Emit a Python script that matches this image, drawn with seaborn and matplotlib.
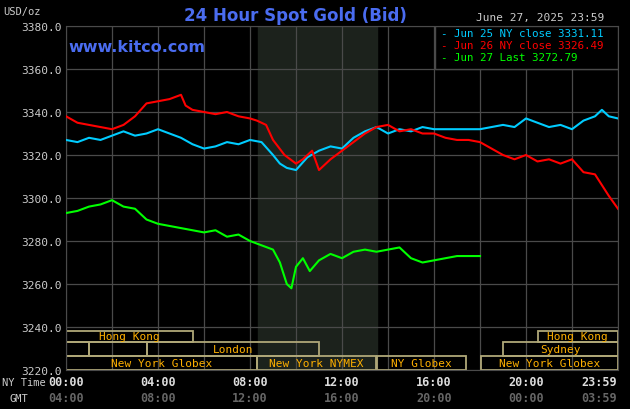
import numpy as np
import pandas as pd
import matplotlib.pyplot as plt
import seaborn as sns
from matplotlib.patches import Rectangle

# hours since 00:00 NY time, price in USD/oz
jun25_hours = [0, 0.5, 1, 1.5, 2, 2.5, 3, 3.5, 4, 4.5, 5, 5.5, 6, 6.5, 7, 7.5, 8, 8.5, 9, 9.3, 9.6,
               10, 10.5, 11, 11.5, 12, 12.5, 13, 13.5, 14, 14.5, 15, 15.5, 16, 16.5, 17, 17.5, 18,
               18.5, 19, 19.5, 20, 20.5, 21, 21.5, 22, 22.5, 23, 23.3, 23.6, 24]
jun25_vals = [3327, 3326, 3328, 3327, 3329, 3331, 3329, 3330, 3332, 3330, 3328, 3325, 3323, 3324,
              3326, 3325, 3327, 3326, 3320, 3316, 3314, 3313, 3319, 3322, 3324, 3323, 3328, 3331,
              3333, 3330, 3332, 3331, 3333, 3332, 3332, 3332, 3332, 3332, 3333, 3334, 3333, 3337,
              3335, 3333, 3334, 3332, 3336, 3338, 3341, 3338, 3337]

jun26_hours = [0, 0.5, 1, 1.5, 2, 2.5, 3, 3.5, 4, 4.5, 5, 5.2, 5.5, 6, 6.5, 7, 7.5, 8, 8.3, 8.7,
               9, 9.5, 10, 10.3, 10.7, 11, 11.5, 12, 12.5, 13, 13.5, 14, 14.5, 15, 15.5, 16,
               16.5, 17, 17.5, 18, 18.5, 19, 19.5, 20, 20.5, 21, 21.5, 22, 22.5, 23, 23.3, 23.6, 24]
jun26_vals = [3338, 3335, 3334, 3333, 3332, 3334, 3338, 3344, 3345, 3346, 3348, 3343, 3341, 3340,
              3339, 3340, 3338, 3337, 3336, 3334, 3327, 3320, 3316, 3318, 3322, 3313, 3318, 3322,
              3326, 3330, 3333, 3334, 3331, 3332, 3330, 3330, 3328, 3327, 3327, 3326, 3323, 3320,
              3318, 3320, 3317, 3318, 3316, 3318, 3312, 3311, 3306, 3301, 3295]

jun27_hours = [0, 0.5, 1, 1.5, 2, 2.5, 3, 3.5, 4, 4.5, 5, 5.5, 6, 6.5, 7, 7.5, 8, 8.5, 9, 9.3,
               9.6, 9.8, 10, 10.3, 10.6, 11, 11.5, 12, 12.5, 13, 13.5, 14, 14.5, 15, 15.5, 16,
               16.5, 17, 17.5, 18]
jun27_vals = [3293, 3294, 3296, 3297, 3299, 3296, 3295, 3290, 3288, 3287, 3286, 3285, 3284, 3285,
              3282, 3283, 3280, 3278, 3276, 3270, 3260, 3258, 3268, 3272, 3266, 3271, 3274, 3272,
              3275, 3276, 3275, 3276, 3277, 3272, 3270, 3271, 3272, 3273, 3273, 3273]

series_labels = ["Jun 25 NY close 3331.11", "Jun 26 NY close 3326.49", "Jun 27 Last 3272.79"]
series_colors = ["#00ccff", "#ff0000", "#00ff00"]

ny_ticks = ["00:00", "04:00", "08:00", "12:00", "16:00", "20:00", "23:59"]
gmt_ticks = ["04:00", "08:00", "12:00", "16:00", "20:00", "00:00", "03:59"]

# (row, start hour, end hour, label)
sessions = [
    (0, 0, 5.5, "Hong Kong"), (0, 20.5, 24, "Hong Kong"),
    (1, 0, 1, ""), (1, 1, 3.5, ""), (1, 3.5, 11, "London"), (1, 19, 24, "Sydney"),
    (2, 0, 8.3, "New York Globex"), (2, 8.3, 13.5, "New York NYMEX"),
    (2, 13.5, 17.4, "NY Globex"), (2, 18.05, 24, "New York Globex"),
]
row_edges = [(3233.0, 3238.2), (3226.5, 3233.0), (3220.0, 3226.5)]

mono = "DejaVu Sans Mono"
fig = plt.figure(figsize=(6.3, 4.1), dpi=100, facecolor="black")
ax = fig.add_axes([66 / 630, 1 - 371 / 410, 552 / 630, 344 / 410])
ax.set_facecolor("black")

ax.axvspan(8.33, 13.5, color="#1c221c", zorder=0)
for h in range(0, 25, 2):
    ax.axvline(h, color="#4a4a4a", lw=0.9, zorder=1)
for v in range(3220, 3381, 20):
    ax.axhline(v, color="#4a4a4a", lw=0.9, zorder=1)

for r, s, e, lab in sessions:
    lo, hi = row_edges[r]
    ax.add_patch(Rectangle((s, lo), e - s, hi - lo, fill=False, edgecolor="#b0a878", lw=1.3, zorder=2))
    if lab:
        ax.text((s + e) / 2, (lo + hi) / 2, lab, color="#ffb000", fontsize=8, family=mono,
                ha="center", va="center", zorder=3)

for hrs, vals, lab, col in zip([jun25_hours, jun26_hours, jun27_hours],
                               [jun25_vals, jun26_vals, jun27_vals], series_labels, series_colors):
    df = pd.DataFrame({"hour": hrs, "price": vals})
    sns.lineplot(data=df, x="hour", y="price", color=col, lw=1.5, ax=ax, zorder=4)

ax.set_xlim(0, 24)
ax.set_ylim(3220, 3380)
ax.set_xlabel("")
ax.set_ylabel("")
ax.set_xticks([])
ax.set_yticks(range(3220, 3381, 20))
ax.set_yticklabels([f"{v}.0" for v in range(3220, 3381, 20)], color="#cccccc", family=mono, fontsize=8)
ax.tick_params(axis="y", length=0, pad=3)
for sp in ax.spines.values():
    sp.set_color("#4a4a4a")

fig.text(295 / 630, 1 - 16 / 410, "24 Hour Spot Gold (Bid)", color="#4a6cf0", fontsize=12,
         fontweight="bold", ha="center", va="center")
fig.text(68 / 630, 1 - 48 / 410, "www.kitco.com", color="#4a6cf0", fontsize=11.5,
         fontweight="bold", ha="left", va="center")
fig.text(476 / 630, 1 - 18 / 410, "June 27, 2025 23:59", color="#cccccc", fontsize=8,
         family=mono, ha="left", va="center")
fig.text(3 / 630, 1 - 12 / 410, "USD/oz", color="#cccccc", fontsize=7.5, family=mono, va="center")

ax.add_patch(Rectangle((435 / 630, 1 - 70 / 410), 183 / 630, 43 / 410, transform=fig.transFigure,
                       facecolor="black", edgecolor="#4a4a4a", lw=1, zorder=5))
for i, (lab, col) in enumerate(zip(series_labels, series_colors)):
    fig.text(441 / 630, 1 - (34 + 12 * i) / 410, "- " + lab, color=col, fontsize=7.8,
             family=mono, va="center", zorder=6)

xpos = [0, 4, 8, 12, 16, 20, 24]
for h, ny, gmt in zip(xpos, ny_ticks, gmt_ticks):
    xf = (66 + h * 23) / 630
    ha = "center"
    if h == 24:
        xf, ha = 617 / 630, "right"
    fig.text(xf, 1 - 383 / 410, ny, color="#dddddd", fontsize=8.5, family=mono,
             fontweight="bold", ha=ha, va="center")
    fig.text(xf, 1 - 399 / 410, gmt, color="#666666", fontsize=8.5, family=mono,
             fontweight="bold", ha=ha, va="center")
fig.text(2 / 630, 1 - 383 / 410, "NY Time", color="#cccccc", fontsize=7.5, family=mono, va="center")
fig.text(10 / 630, 1 - 399 / 410, "GMT", color="#cccccc", fontsize=7.5, family=mono, va="center")

fig.savefig("out.png", dpi=100, facecolor="black")
